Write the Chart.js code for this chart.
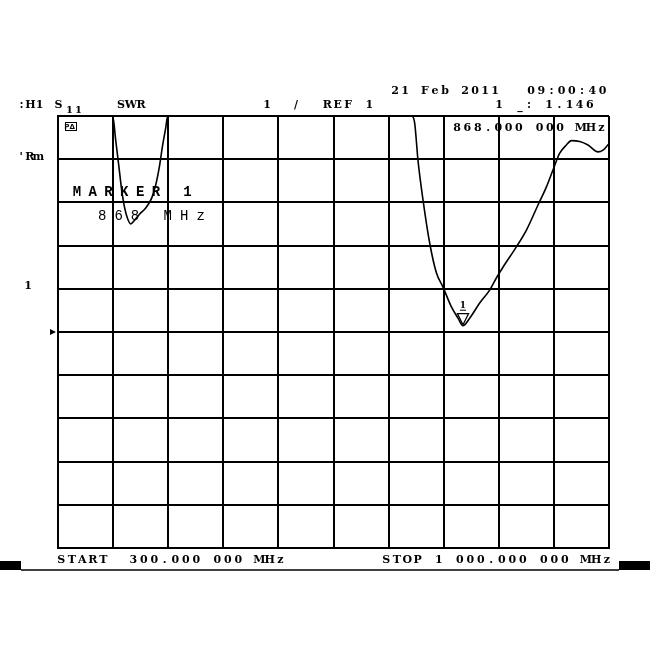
<!DOCTYPE html>
<html>
<head>
<meta charset="utf-8">
<script src="https://cdn.jsdelivr.net/npm/chart.js@4.4.0/dist/chart.umd.min.js"></script>
<style>
  html, body { margin: 0; padding: 0; background: #fff; }
  #wrap { width: 650px; height: 650px; }
</style>
</head>
<body>
<div id="wrap"><canvas id="swrChart" width="650" height="650"></canvas></div>
<script>
// sweep
const startMHz = 300;
const stopMHz = 1000;
const divisions = 10;

// SWR format, 1 / div, ref 1 at the 5th division
const refValue = 1;
const perDiv = 1;
const refDivision = 5;

const freqMHz = [
  300, 369.5, 373.3, 377.1, 380.9, 384.7, 388.5, 392.3, 397.4, 403.8,
  411.4, 419, 424.1, 429.2, 433, 436.8, 439.4, 749.3, 753.1, 757.3,
  763.7, 772.2, 780.7, 789.1, 799.8, 808.2, 814.5, 823, 835.7, 848.4,
  856.9, 865.3, 882.3, 895.1, 909.8, 920.5, 928.8, 937.4, 945.9, 952.2,
  962.8, 973.3, 986, 992.4, 998.7, 1000
];
const swrValues = [
  6, 6, 5.44, 4.87, 4.29, 3.87, 3.62, 3.5, 3.59, 3.73,
  3.87, 4.1, 4.4, 4.87, 5.33, 5.72, 6, 6, 5.84, 4.98,
  4.06, 3.06, 2.37, 2.04, 1.58, 1.32, 1.146, 1.32, 1.67, 1.97,
  2.25, 2.5, 2.97, 3.36, 3.94, 4.36, 4.75, 5.14, 5.33, 5.43,
  5.41, 5.33, 5.17, 5.21, 5.33, 5.35
];

// marker 1 sits on the bottom of the right-hand dip
const markerFreq = 814.5;
const markerSwr = 1.146;

// annotation strings from the screen
const dateText = "21 Feb 2011";
const timeText = "09:00:40";
const markerReadout = "868.000 000 MHz";
const markerValue = "1.146";
const startText = "START";
const startFreqText = "300.000 000 MHz";
const stopText = "STOP 1 000.000 000 MHz";
const noteLine1 = "MARKER 1";
const noteLine2 = "868 MHz";

const points = freqMHz.map((f, i) => ({ x: f, y: swrValues[i] }));

// draws text one glyph per fixed cell, like the plotter font
function spaced(ctx, text, x, y, pitch) {
  ctx.textAlign = "center";
  for (let i = 0; i < text.length; i++) {
    ctx.fillText(text[i], x + i * pitch + pitch / 2 - 1, y);
  }
}

const screenText = {
  id: "screenText",
  beforeDraw: (chart) => {
    const ctx = chart.ctx;
    ctx.save();
    ctx.fillStyle = "#fff";
    ctx.fillRect(0, 0, chart.width, chart.height);
    ctx.restore();
  },
  afterDraw: (chart) => {
    const ctx = chart.ctx;
    const { left, right, top, bottom } = chart.chartArea;
    const xs = chart.scales.x;
    const ys = chart.scales.y;
    const plotFont = 'bold 11px "DejaVu Serif"';
    ctx.save();
    ctx.fillStyle = "#000";
    ctx.strokeStyle = "#000";
    ctx.textBaseline = "middle";

    ctx.font = plotFont;
    spaced(ctx, dateText, 391, 91, 10);
    spaced(ctx, timeText, 527, 91, 10.2);

    // status line
    spaced(ctx, ":H1", 18, 105, 9);
    spaced(ctx, "S", left - 3, 105, 9);
    ctx.font = 'bold 10px "DejaVu Serif"';
    spaced(ctx, "11", left + 8, 110, 9);
    ctx.font = plotFont;
    spaced(ctx, "SWR", 117, 105, 10);
    spaced(ctx, "1", 263, 105, 10);
    spaced(ctx, "/", 292, 105, 10);
    spaced(ctx, "REF 1", 323, 105, 10.5);
    spaced(ctx, "1", 495, 105, 10);
    spaced(ctx, "_", 516, 106, 10);
    spaced(ctx, ":", 525, 105, 10);
    spaced(ctx, markerValue, 545, 105, 10.2);

    spaced(ctx, markerReadout, 453, 128, 10.3);

    // left gutter
    spaced(ctx, "'Rm", 18, 157, 8.5);
    spaced(ctx, "1", 24, 286, 10);
    ctx.beginPath();
    ctx.moveTo(50, 329);
    ctx.lineTo(56, 332);
    ctx.lineTo(50, 335);
    ctx.closePath();
    ctx.fill();

    // small softkey box
    ctx.lineWidth = 1;
    ctx.strokeRect(65.5, 122.5, 11, 8);
    ctx.font = 'bold 7px "DejaVu Sans"';
    spaced(ctx, "PΔ", 65, 127, 5.5);

    // hand note
    ctx.font = 'bold 14px "Liberation Mono"';
    spaced(ctx, noteLine1, 70, 192, 15.8);
    ctx.font = '14px "Liberation Mono"';
    spaced(ctx, noteLine2, 95, 216, 16.4);

    // marker 1 triangle, apex on the trace
    const mx = xs.getPixelForValue(markerFreq);
    const my = ys.getPixelForValue(markerSwr);
    ctx.lineWidth = 1.3;
    ctx.beginPath();
    ctx.moveTo(mx - 5.5, my - 12);
    ctx.lineTo(mx + 5.5, my - 12);
    ctx.lineTo(mx, my - 1);
    ctx.closePath();
    ctx.stroke();
    ctx.font = 'bold 9px "DejaVu Serif"';
    ctx.textAlign = "center";
    ctx.fillText("1", mx, my - 20);
    ctx.fillRect(mx - 3, my - 16, 6, 1);

    // footer
    ctx.font = plotFont;
    spaced(ctx, startText, left - 1, bottom + 12, 10.5);
    spaced(ctx, startFreqText, 129, bottom + 12, 10.5);
    spaced(ctx, stopText, 382, bottom + 12, 10.5);

    ctx.fillRect(0, 561, 21, 9);
    ctx.fillRect(619, 561, 31, 9);
    ctx.lineWidth = 1.5;
    ctx.beginPath();
    ctx.moveTo(21, 570);
    ctx.lineTo(619, 570);
    ctx.stroke();
    ctx.restore();
  },
};

const gridStyle = { color: "#000", lineWidth: 2, drawTicks: false };
const borderStyle = { color: "#000", width: 2 };

new Chart(document.getElementById("swrChart"), {
  type: "line",
  data: {
    datasets: [
      {
        label: "S11 SWR",
        data: points,
        borderColor: "#000",
        borderWidth: 1.6,
        pointRadius: 0,
        cubicInterpolationMode: "monotone",
        fill: false,
      },
    ],
  },
  plugins: [screenText],
  options: {
    responsive: false,
    animation: false,
    layout: { padding: { left: 58, top: 116, right: 41, bottom: 102 } },
    plugins: {
      legend: { display: false },
      tooltip: { enabled: false },
    },
    scales: {
      x: {
        type: "linear",
        min: startMHz,
        max: stopMHz,
        ticks: { display: false, stepSize: (stopMHz - startMHz) / divisions },
        grid: gridStyle,
        border: borderStyle,
      },
      y: {
        min: refValue - refDivision * perDiv,
        max: refValue + (divisions - refDivision) * perDiv,
        ticks: { display: false, stepSize: perDiv },
        grid: gridStyle,
        border: borderStyle,
      },
    },
  },
});
</script>
</body>
</html>
